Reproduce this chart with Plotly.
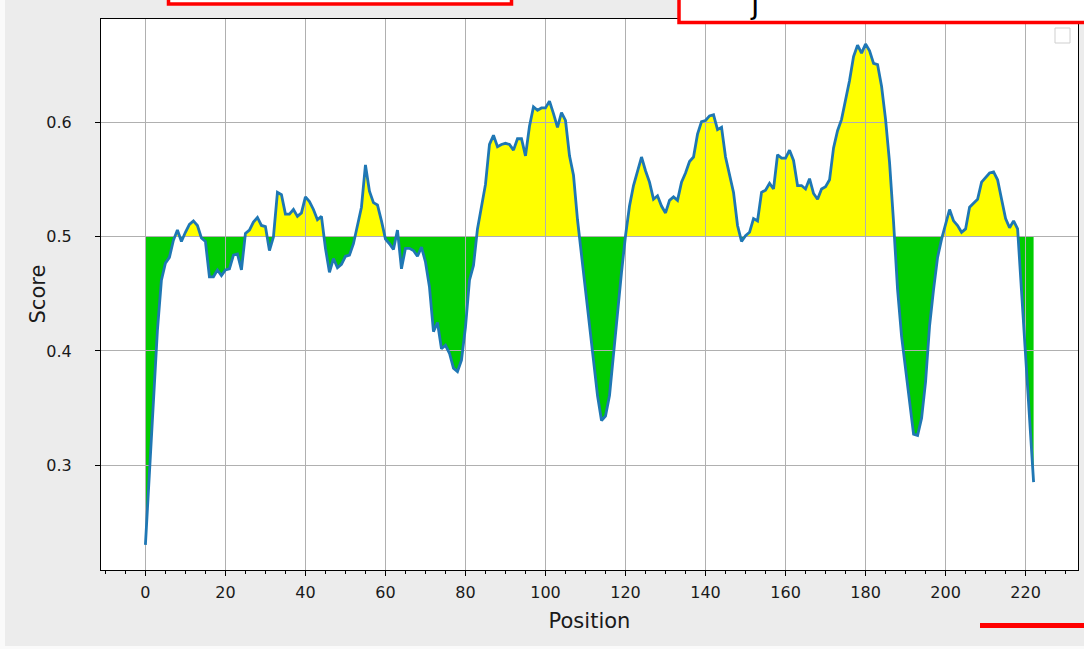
import numpy as np
import plotly.graph_objects as go

# Per-residue score profile
positions = list(range(223))
scores = [
    0.230, 0.290, 0.350, 0.418, 0.462, 0.477, 0.482, 0.497, 0.506, 0.496,
    0.504, 0.511, 0.514, 0.510, 0.499, 0.496, 0.465, 0.465, 0.471, 0.466,
    0.471, 0.472, 0.484, 0.485, 0.471, 0.503, 0.506, 0.513, 0.517, 0.510,
    0.509, 0.488, 0.500, 0.539, 0.537, 0.520, 0.520, 0.524, 0.518, 0.521,
    0.535, 0.531, 0.524, 0.515, 0.518, 0.490, 0.469, 0.481, 0.473, 0.476,
    0.483, 0.484, 0.494, 0.511, 0.526, 0.563, 0.540, 0.530, 0.528, 0.514,
    0.498, 0.494, 0.489, 0.506, 0.472, 0.490, 0.490, 0.488, 0.483, 0.491,
    0.478, 0.456, 0.417, 0.425, 0.402, 0.405, 0.398, 0.385, 0.382, 0.392,
    0.421, 0.462, 0.475, 0.507, 0.526, 0.546, 0.581, 0.589, 0.579, 0.581,
    0.582, 0.581, 0.576, 0.586, 0.586, 0.571, 0.597, 0.614, 0.611, 0.613,
    0.613, 0.619, 0.608, 0.596, 0.609, 0.602, 0.571, 0.554, 0.515, 0.483,
    0.451, 0.419, 0.390, 0.361, 0.339, 0.343, 0.361, 0.399, 0.434, 0.469,
    0.501, 0.527, 0.545, 0.558, 0.570, 0.558, 0.548, 0.533, 0.536, 0.527,
    0.521, 0.532, 0.535, 0.532, 0.548, 0.556, 0.566, 0.570, 0.590, 0.601,
    0.602, 0.606, 0.607, 0.594, 0.596, 0.570, 0.554, 0.539, 0.510, 0.496,
    0.501, 0.504, 0.516, 0.514, 0.539, 0.541, 0.547, 0.542, 0.572, 0.569,
    0.569, 0.576, 0.567, 0.545, 0.545, 0.542, 0.551, 0.538, 0.533, 0.542,
    0.544, 0.550, 0.578, 0.593, 0.603, 0.619, 0.637, 0.658, 0.668, 0.661,
    0.669, 0.663, 0.652, 0.651, 0.632, 0.603, 0.565, 0.513, 0.454, 0.413,
    0.384, 0.355, 0.327, 0.326, 0.341, 0.373, 0.422, 0.454, 0.482, 0.498,
    0.510, 0.524, 0.514, 0.510, 0.504, 0.507, 0.526, 0.530, 0.533, 0.548,
    0.552, 0.556, 0.557, 0.550, 0.533, 0.516, 0.508, 0.514, 0.507, 0.452,
    0.396, 0.341, 0.285,
]
threshold = 0.5
x_tick_values = list(range(0, 221, 20))
y_tick_values = [0.3, 0.4, 0.5, 0.6]

W, H = 1084, 649
ML, MR, MT, MB = 101, 6, 19, 79


def paper_x(p):
    return (p - ML) / (W - ML - MR)


def paper_y(p):
    return (H - MB - p) / (H - MT - MB)


# Axis limits with 5% padding around the data
x_arr = np.array(positions, dtype=float)
y_arr = np.array(scores, dtype=float)
xpad = 0.05 * (x_arr.max() - x_arr.min())
ypad = 0.05 * (y_arr.max() - y_arr.min())
x_range = [x_arr.min() - xpad, x_arr.max() + xpad]
y_range = [y_arr.min() - ypad, y_arr.max() + ypad]

# Insert the threshold crossings so both fills meet cleanly at 0.5
xs, ys = [], []
for i in range(len(x_arr)):
    if i > 0 and (y_arr[i - 1] - threshold) * (y_arr[i] - threshold) < 0:
        t = (threshold - y_arr[i - 1]) / (y_arr[i] - y_arr[i - 1])
        xs.append(x_arr[i - 1] + t * (x_arr[i] - x_arr[i - 1]))
        ys.append(threshold)
    xs.append(x_arr[i])
    ys.append(y_arr[i])
xs = np.array(xs)
ys = np.array(ys)
upper = np.maximum(ys, threshold)
lower = np.minimum(ys, threshold)
base = np.full(len(xs), threshold)

fig = go.Figure()
common = dict(mode="lines", line=dict(width=0), hoverinfo="skip", showlegend=False,
              xaxis="x", yaxis="y")
fig.add_trace(go.Scatter(x=xs, y=base, **common))
fig.add_trace(go.Scatter(x=xs, y=upper, fill="tonexty", fillcolor="#ffff00", **common))
fig.add_trace(go.Scatter(x=xs, y=base, **common))
fig.add_trace(go.Scatter(x=xs, y=lower, fill="tonexty", fillcolor="#00cc00", **common))

# Score curve drawn on the upper subplot so the grid sits between fill and line
fig.add_trace(go.Scatter(x=positions, y=scores, mode="lines",
                         line=dict(color="#1f77b4", width=2.8),
                         showlegend=False, xaxis="x2", yaxis="y2"))

font_family = "DejaVu Sans"
hidden_axis = dict(range=x_range, domain=[0, 1], showgrid=False, zeroline=False,
                   showticklabels=False, ticks="", fixedrange=True)

shapes = [
    # white plotting area under every layer
    dict(type="rect", xref="paper", yref="paper", x0=0, x1=1, y0=0, y1=1,
         fillcolor="white", line=dict(width=0), layer="below"),
    # thin light strips at the window edges
    dict(type="rect", xref="paper", yref="paper", x0=paper_x(0), x1=paper_x(5),
         y0=paper_y(H), y1=paper_y(0), fillcolor="#fafafa", line=dict(width=0), layer="below"),
    dict(type="rect", xref="paper", yref="paper", x0=paper_x(0), x1=paper_x(W),
         y0=paper_y(H), y1=paper_y(646), fillcolor="#fafafa", line=dict(width=0), layer="below"),
    # empty legend frame
    dict(type="rect", xref="paper", yref="paper", x0=paper_x(1055), x1=paper_x(1070),
         y0=paper_y(43), y1=paper_y(28), fillcolor="white",
         line=dict(color="#cfcfcf", width=1), layer="above"),
    # red highlight boxes
    dict(type="rect", xref="paper", yref="paper", x0=paper_x(168.5), x1=paper_x(511.5),
         y0=paper_y(4), y1=paper_y(-12), fillcolor="white",
         line=dict(color="#ff0000", width=3.5), layer="above"),
    dict(type="rect", xref="paper", yref="paper", x0=paper_x(679), x1=paper_x(1095),
         y0=paper_y(22.5), y1=paper_y(-12), fillcolor="white",
         line=dict(color="#ff0000", width=3.5), layer="above"),
    dict(type="rect", xref="paper", yref="paper", x0=paper_x(980), x1=paper_x(1090),
         y0=paper_y(628), y1=paper_y(623), fillcolor="#ff0000",
         line=dict(width=0), layer="above"),
]

annotations = [
    dict(text="j", xref="paper", yref="paper", x=paper_x(754), y=paper_y(4),
         xanchor="center", yanchor="middle", showarrow=False,
         font=dict(family=font_family, size=30, color="black")),
    # y-axis title, set close to the tick labels
    dict(text="Score", xref="paper", yref="paper", x=paper_x(37), y=0.5,
         xanchor="center", yanchor="middle", textangle=-90, showarrow=False,
         font=dict(family=font_family, size=21, color="#1a1a1a")),
]

fig.update_layout(
    width=W, height=H,
    margin=dict(l=ML, r=MR, t=MT, b=MB, pad=0),
    paper_bgcolor="#ececec",
    plot_bgcolor="rgba(0,0,0,0)",
    font=dict(family=font_family, color="#1a1a1a"),
    showlegend=False,
    xaxis=dict(anchor="y", **hidden_axis),
    yaxis=dict(anchor="x", **{**hidden_axis, "range": y_range}),
    xaxis2=dict(
        range=x_range, domain=[0, 1], anchor="y2",
        tickvals=x_tick_values, ticks="outside", ticklen=5, tickwidth=1, tickcolor="black",
        showgrid=True, gridcolor="#b0b0b0", gridwidth=1, zeroline=False,
        showline=True, mirror=True, linecolor="black", linewidth=1,
        minor=dict(dtick=5, tick0=0, ticks="outside", ticklen=3, tickwidth=1,
                   tickcolor="black", showgrid=False),
        tickfont=dict(size=16),
        ticklabelstandoff=3,
        title=dict(text="Position", font=dict(size=21), standoff=12),
        fixedrange=True,
    ),
    yaxis2=dict(
        range=y_range, domain=[0, 1], anchor="x2",
        tickvals=y_tick_values, ticktext=[f"{v:.1f}" for v in y_tick_values],
        ticks="outside", ticklen=5, tickwidth=1, tickcolor="black",
        showgrid=True, gridcolor="#b0b0b0", gridwidth=1, zeroline=False,
        showline=True, mirror=True, linecolor="black", linewidth=1,
        tickfont=dict(size=16),
        ticklabelstandoff=20,
        fixedrange=True,
    ),
    shapes=shapes,
    annotations=annotations,
)

fig.write_html("out.html")
